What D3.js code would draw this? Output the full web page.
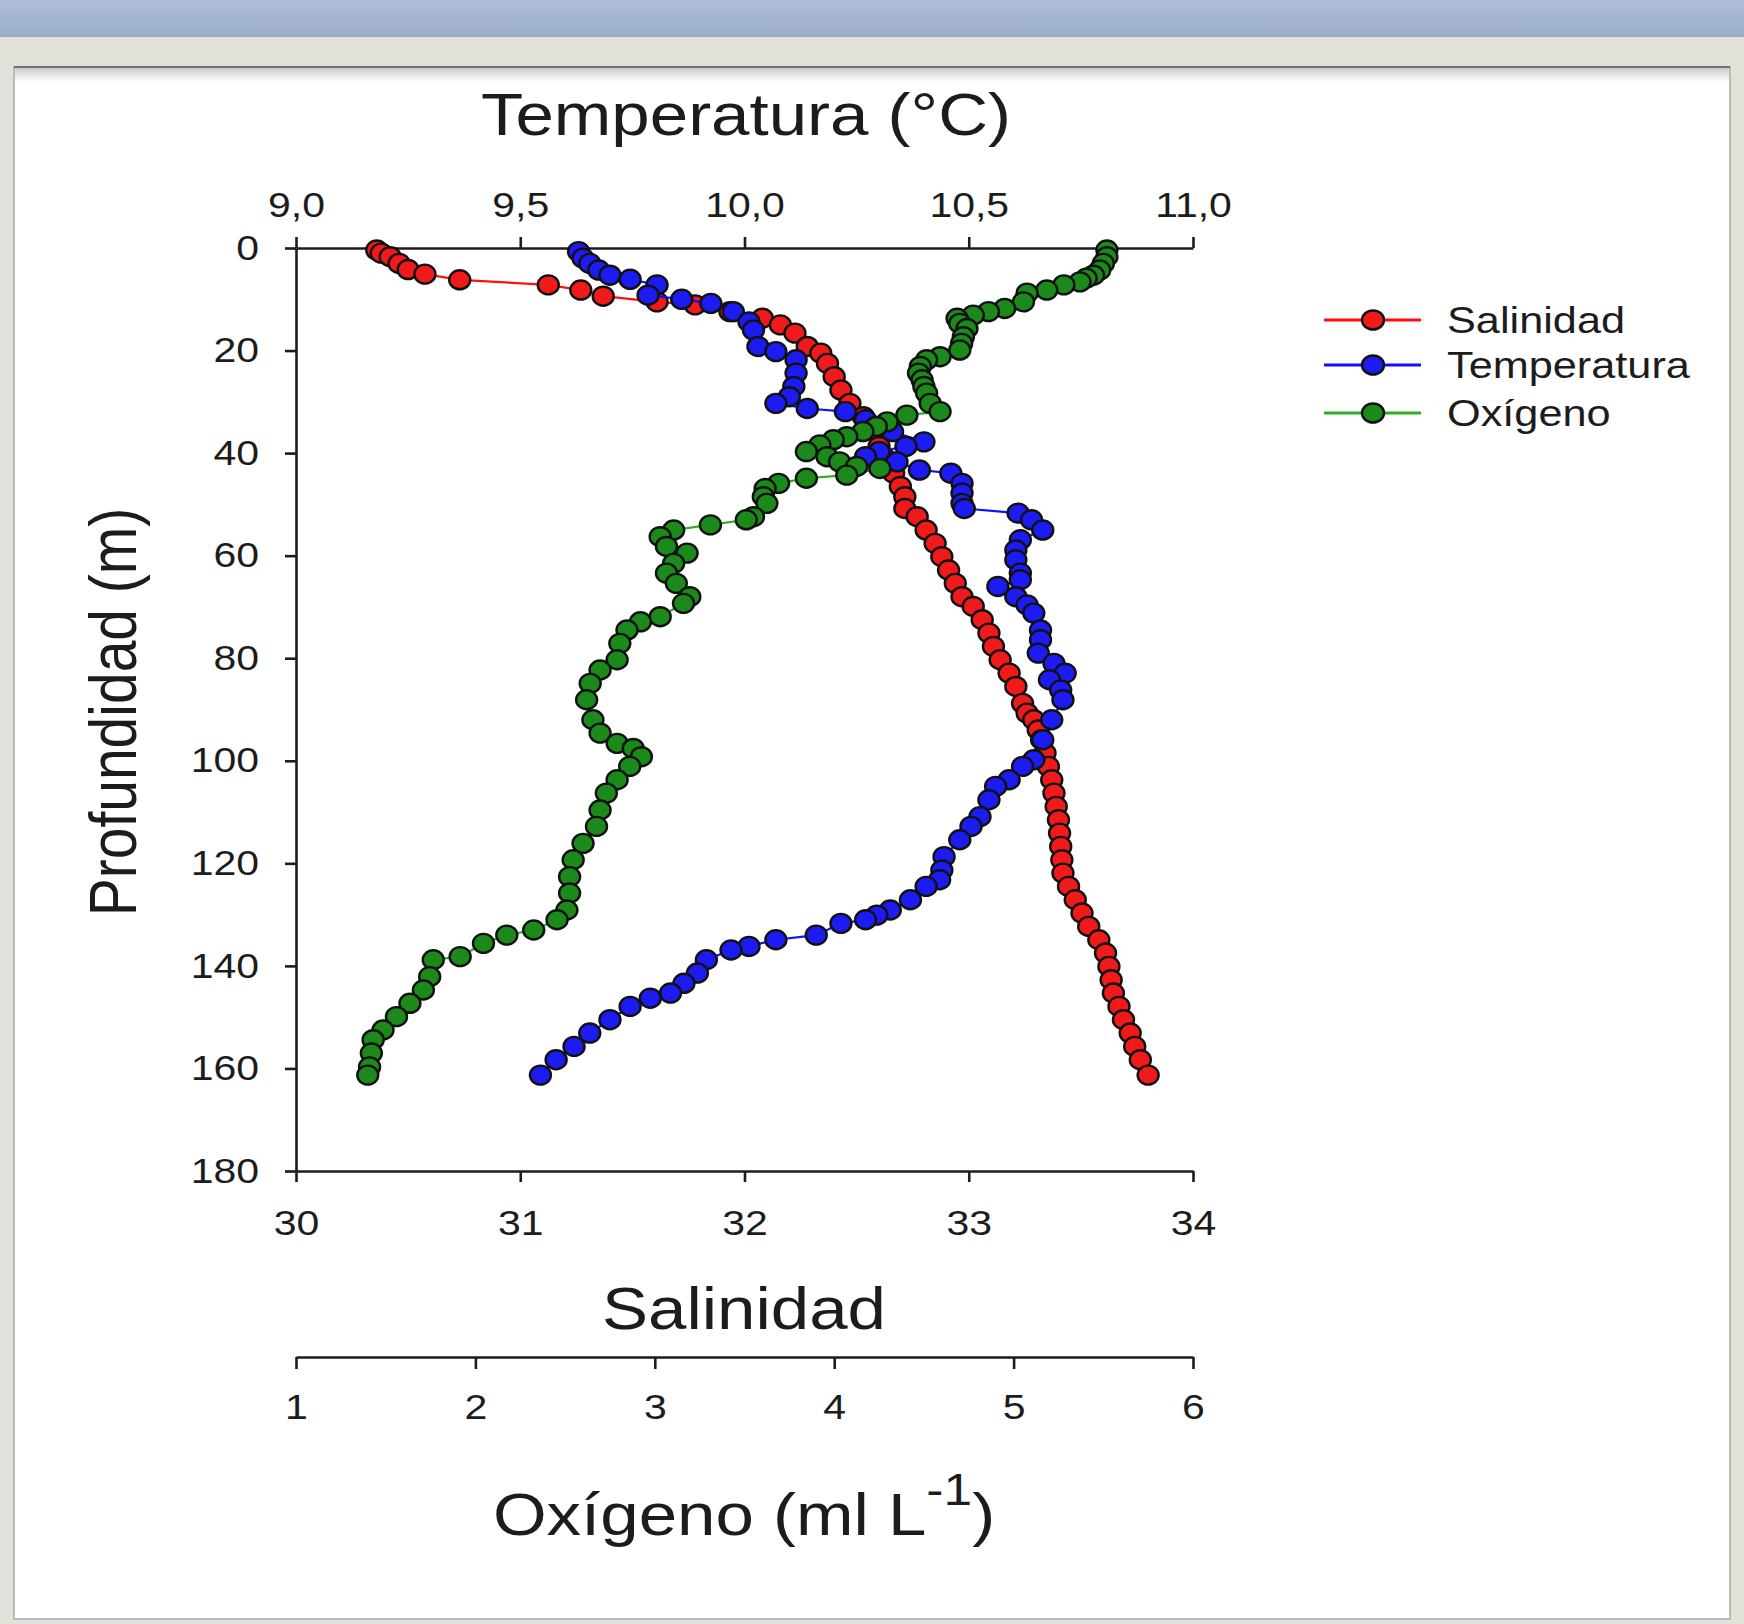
<!DOCTYPE html>
<html lang="es">
<head>
<meta charset="utf-8">
<script src="https://cdn.jsdelivr.net/npm/d3@7"></script>
<style>
  body { margin: 0; background: #e1e0d9; }
  svg { display: block; }
  text { font-family: "Liberation Sans", Arial, sans-serif; fill: #1c1c1c; }
</style>
</head>
<body>
<script>
// profile data: depth (m) and value per series
var salDepth = [0.4, 1.0, 1.7, 3.0, 4.2, 5.1, 6.2, 7.2, 8.2, 9.4, 10.5, 11.1, 12.4, 13.7, 15.0, 16.6, 19.2, 20.5, 22.5, 25.1,
  27.7, 30.3, 32.9, 35.5, 38.7, 41.3, 43.9, 46.5, 48.5, 50.8, 52.4, 55.0, 57.6, 60.2, 62.8, 65.4, 68.0, 69.9, 72.5, 75.1,
  77.7, 80.3, 82.9, 85.5, 88.8, 90.7, 92.0, 94.0, 95.9, 98.5, 101.1, 103.7, 106.3, 108.9, 111.5, 114.1, 116.7, 119.3, 121.9, 124.5,
  127.1, 129.7, 132.3, 134.9, 137.5, 140.1, 142.7, 145.3, 147.9, 150.5, 153.1, 155.7, 158.3, 161.3];
var salValue = [30.36, 30.38, 30.42, 30.46, 30.50, 30.575, 30.73, 31.125, 31.27, 31.37, 31.61, 31.78, 31.935, 32.08, 32.16, 32.225, 32.28, 32.34, 32.37, 32.40,
  32.43, 32.47, 32.53, 32.575, 32.60, 32.635, 32.665, 32.695, 32.715, 32.715, 32.77, 32.81, 32.85, 32.88, 32.91, 32.94, 32.97, 33.02, 33.06, 33.09,
  33.11, 33.14, 33.18, 33.21, 33.24, 33.26, 33.29, 33.31, 33.325, 33.34, 33.355, 33.37, 33.38, 33.39, 33.40, 33.405, 33.41, 33.415, 33.42, 33.445,
  33.475, 33.505, 33.535, 33.58, 33.61, 33.625, 33.635, 33.645, 33.67, 33.69, 33.72, 33.74, 33.765, 33.80];

var tempDepth = [0.7, 2.0, 3.0, 4.3, 5.3, 6.1, 7.2, 9.2, 10.0, 10.8, 12.4, 14.4, 16.0, 19.2, 20.2, 21.8, 24.4, 27.0, 29.0, 30.3,
  31.3, 31.9, 33.5, 35.8, 37.8, 38.7, 39.7, 40.7, 41.7, 43.3, 43.9, 45.9, 47.8, 49.8, 50.8, 51.7, 53.0, 55.0, 56.9, 58.9,
  60.8, 63.4, 64.7, 66.0, 68.0, 69.6, 71.2, 74.5, 76.4, 79.0, 81.0, 82.9, 84.2, 86.2, 88.1, 92.0, 95.9, 99.8, 101.1, 103.7,
  105.0, 107.6, 110.9, 112.8, 115.4, 118.7, 121.3, 123.2, 124.5, 127.1, 129.1, 130.1, 131.0, 131.7, 134.0, 134.9, 136.2, 136.9, 138.8, 141.4,
  143.4, 145.3, 146.3, 147.9, 150.5, 153.1, 155.7, 158.3, 161.3];
var tempValue = [9.63, 9.64, 9.655, 9.675, 9.70, 9.745, 9.805, 9.785, 9.86, 9.925, 9.975, 10.01, 10.02, 10.03, 10.07, 10.115, 10.115, 10.11, 10.10, 10.07,
  10.14, 10.225, 10.27, 10.33, 10.40, 10.36, 10.30, 10.27, 10.34, 10.39, 10.46, 10.485, 10.485, 10.485, 10.49, 10.61, 10.64, 10.665, 10.615, 10.605,
  10.605, 10.615, 10.615, 10.565, 10.605, 10.63, 10.645, 10.66, 10.66, 10.655, 10.69, 10.715, 10.68, 10.705, 10.71, 10.685, 10.665, 10.645, 10.62, 10.59,
  10.56, 10.545, 10.525, 10.505, 10.48, 10.445, 10.44, 10.435, 10.405, 10.37, 10.325, 10.295, 10.27, 10.215, 10.16, 10.07, 10.01, 9.97, 9.915, 9.895,
  9.865, 9.835, 9.79, 9.745, 9.70, 9.655, 9.62, 9.58, 9.545];

var oxyDepth = [0.4, 1.7, 3.0, 4.3, 5.3, 5.9, 6.6, 7.2, 8.2, 8.8, 10.5, 11.8, 12.4, 13.1, 13.7, 14.7, 15.7, 17.3, 18.6, 19.9,
  21.2, 21.8, 23.1, 24.4, 25.7, 27.0, 28.3, 30.3, 31.9, 32.6, 33.9, 34.8, 35.8, 36.8, 37.4, 38.4, 39.7, 40.7, 41.7, 42.6,
  43.0, 44.3, 44.9, 45.9, 46.9, 48.5, 49.8, 52.4, 53.0, 54.0, 55.0, 56.3, 58.2, 59.5, 61.5, 63.4, 65.4, 68.0, 69.3, 71.9,
  72.9, 74.5, 77.1, 80.3, 82.3, 84.9, 88.1, 92.0, 94.6, 96.6, 97.6, 99.2, 101.1, 103.7, 106.3, 109.6, 112.8, 116.1, 119.3, 122.6,
  125.8, 129.1, 131.0, 133.0, 134.0, 135.6, 138.2, 138.8, 142.1, 144.7, 147.3, 149.9, 152.5, 154.4, 157.0, 159.7, 161.3];
var oxyValue = [5.52, 5.52, 5.50, 5.48, 5.445, 5.405, 5.37, 5.28, 5.185, 5.075, 5.055, 4.95, 4.86, 4.775, 4.685, 4.70, 4.74, 4.72, 4.71, 4.70,
  4.59, 4.515, 4.48, 4.47, 4.49, 4.50, 4.515, 4.535, 4.59, 4.405, 4.295, 4.235, 4.16, 4.07, 3.995, 3.92, 3.845, 3.96, 4.03, 4.125,
  4.255, 4.07, 3.845, 3.69, 3.615, 3.605, 3.625, 3.55, 3.51, 3.31, 3.105, 3.03, 3.065, 3.18, 3.105, 3.065, 3.12, 3.195, 3.16, 3.03,
  2.92, 2.845, 2.805, 2.79, 2.695, 2.64, 2.62, 2.655, 2.695, 2.79, 2.88, 2.925, 2.86, 2.79, 2.73, 2.695, 2.675, 2.60, 2.545, 2.525,
  2.525, 2.51, 2.455, 2.325, 2.175, 2.045, 1.915, 1.765, 1.745, 1.71, 1.635, 1.56, 1.485, 1.43, 1.42, 1.41, 1.40];

var depthTicks = [0, 20, 40, 60, 80, 100, 120, 140, 160, 180];
var tempTicks = [9.0, 9.5, 10.0, 10.5, 11.0];
var salTicks = [30, 31, 32, 33, 34];
var oxyTicks = [1, 2, 3, 4, 5, 6];
var legendNames = ["Salinidad", "Temperatura", "Oxígeno"];

var w = 1744, h = 1624;
var sx = 1.17; // the figure's text is stretched sideways

var svg = d3.select("body").append("svg").attr("width", w).attr("height", h);
var defs = svg.append("defs");

var band = defs.append("linearGradient").attr("id", "band").attr("x1", 0).attr("y1", 0).attr("x2", 0).attr("y2", 1);
band.append("stop").attr("offset", "0%").attr("stop-color", "#aebcd7");
band.append("stop").attr("offset", "100%").attr("stop-color", "#9badca");
var shade = defs.append("linearGradient").attr("id", "shade").attr("x1", 0).attr("y1", 0).attr("x2", 0).attr("y2", 1);
shade.append("stop").attr("offset", "0%").attr("stop-color", "#000").attr("stop-opacity", 0.2);
shade.append("stop").attr("offset", "100%").attr("stop-color", "#000").attr("stop-opacity", 0);

// window chrome behind the figure
svg.append("rect").attr("width", w).attr("height", 37).attr("fill", "url(#band)");
svg.append("rect").attr("y", 37).attr("width", w).attr("height", h - 37).attr("fill", "#e1e0d9");
svg.append("rect").attr("x", 14).attr("y", 67).attr("width", 1716).attr("height", 1552)
  .attr("fill", "#fff").attr("stroke", "#a9a9a6").attr("stroke-width", 1.5);
svg.append("line").attr("x1", 14).attr("x2", 1730).attr("y1", 67).attr("y2", 67).attr("stroke", "#6f6f6f").attr("stroke-width", 2);
svg.append("rect").attr("x", 15).attr("y", 68).attr("width", 1714).attr("height", 14).attr("fill", "url(#shade)");

// scales
var y = d3.scaleLinear().domain([0, 180]).range([248, 1171]);
var xT = d3.scaleLinear().domain([9, 11]).range([296, 1193]);
var xS = d3.scaleLinear().domain([30, 34]).range([296, 1193]);
var xO = d3.scaleLinear().domain([1, 6]).range([296, 1193]);

function styleAxis(g) {
  g.selectAll("path, line").attr("stroke", "#1c1c1c").attr("stroke-width", 2.6);
  g.selectAll("text").attr("font-size", 35).attr("fill", "#1c1c1c").attr("font-family", "Liberation Sans, Arial, sans-serif");
}
var comma = function(d) { return d3.format(".1f")(d).replace(".", ","); };

var gTop = svg.append("g").attr("transform", "translate(0,248)")
  .call(d3.axisTop(xT).tickValues(tempTicks).tickFormat(comma).tickSize(11).tickSizeOuter(0).tickPadding(20));
styleAxis(gTop);
gTop.selectAll("text").attr("transform", "scale(" + sx + ",1)");

var gLeft = svg.append("g").attr("transform", "translate(296,0)")
  .call(d3.axisLeft(y).tickValues(depthTicks).tickSize(11).tickSizeOuter(0).tickPadding(26));
styleAxis(gLeft);
gLeft.selectAll("text").attr("x", -37 / sx).attr("transform", "scale(" + sx + ",1)");

var gBottom = svg.append("g").attr("transform", "translate(0,1171)")
  .call(d3.axisBottom(xS).tickValues(salTicks).tickFormat(d3.format("d")).tickSize(11).tickSizeOuter(0).tickPadding(28));
styleAxis(gBottom);
gBottom.selectAll("text").attr("transform", "scale(" + sx + ",1)");

var gOxy = svg.append("g").attr("transform", "translate(0,1357)")
  .call(d3.axisBottom(xO).tickValues(oxyTicks).tickFormat(d3.format("d")).tickSize(12).tickSizeOuter(0).tickPadding(25));
styleAxis(gOxy);
gOxy.selectAll("text").attr("transform", "scale(" + sx + ",1)");

// titles
function label(x, yy, size) {
  return svg.append("text").attr("transform", "translate(" + x + "," + yy + ") scale(" + sx + ",1)")
    .attr("text-anchor", "middle").attr("font-size", size);
}
label(746, 135, 59).text("Temperatura (°C)");
label(744, 1329, 59).text("Salinidad");
var ox = label(744, 1535, 59);
ox.append("tspan").text("Oxígeno (ml L");
ox.append("tspan").attr("dy", -30).attr("font-size", 44).text("-1");
ox.append("tspan").attr("dy", 30).text(")");
svg.append("text").attr("transform", "translate(136,712) scale(" + sx + ",1) rotate(-90)")
  .attr("text-anchor", "middle").attr("font-size", 57).text("Profundidad (m)");

// profiles
var series = [
  { depth: salDepth, value: salValue, x: xS, line: "#ff1010", fill: "#f01a1a" },
  { depth: tempDepth, value: tempValue, x: xT, line: "#1010ff", fill: "#1c1cf2" },
  { depth: oxyDepth, value: oxyValue, x: xO, line: "#25b025", fill: "#1b8a1b" }
];

series.forEach(function(s) {
  var pts = s.depth.map(function(d, i) { return { d: d, v: s.value[i] }; });
  var g = svg.append("g");
  g.append("path").datum(pts)
    .attr("fill", "none").attr("stroke", s.line).attr("stroke-width", 2.2)
    .attr("d", d3.line().x(function(p) { return s.x(p.v); }).y(function(p) { return y(p.d); }));
  g.selectAll("ellipse").data(pts).enter().append("ellipse")
    .attr("cx", function(p) { return s.x(p.v); })
    .attr("cy", function(p) { return y(p.d); })
    .attr("rx", 10.5).attr("ry", 9.5)
    .attr("fill", s.fill).attr("stroke", "#111").attr("stroke-width", 2.4);
});

// legend
var legY = [320, 365, 413];
series.forEach(function(s, i) {
  var g = svg.append("g").attr("transform", "translate(1324," + legY[i] + ")");
  g.append("line").attr("x1", 0).attr("x2", 97).attr("stroke", s.line).attr("stroke-width", 3);
  g.append("ellipse").attr("cx", 49).attr("rx", 11).attr("ry", 9.5)
    .attr("fill", s.fill).attr("stroke", "#111").attr("stroke-width", 2.4);
  g.append("text").attr("transform", "translate(123,13) scale(" + sx + ",1)")
    .attr("font-size", 37).text(legendNames[i]);
});
</script>
</body>
</html>
